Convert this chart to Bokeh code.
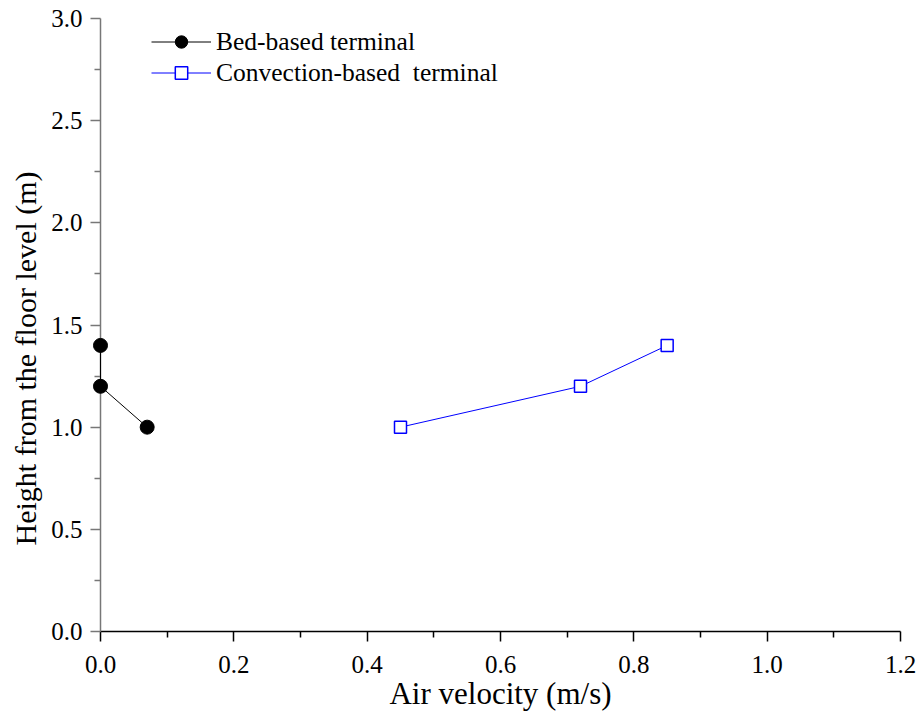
from bokeh.plotting import figure
from bokeh.models import Range1d, Legend, LegendItem, FixedTicker, NumeralTickFormatter, Title
from bokeh.embed import file_html
from bokeh.resources import INLINE

# Data
bed_velocity = [0.0, 0.0, 0.07]
bed_height = [1.4, 1.2, 1.0]
conv_velocity = [0.45, 0.72, 0.85]
conv_height = [1.0, 1.2, 1.4]

x_major = [0.0, 0.2, 0.4, 0.6, 0.8, 1.0, 1.2]
x_minor = [0.1, 0.3, 0.5, 0.7, 0.9, 1.1]
y_major = [0.0, 0.5, 1.0, 1.5, 2.0, 2.5, 3.0]
y_minor = [0.25, 0.75, 1.25, 1.75, 2.25, 2.75]

x_title = "Air velocity (m/s)"
y_title = "Height from the floor level (m)"
series_names = ["Bed-based terminal", "Convection-based  terminal"]

FONT = "Liberation Serif"

p = figure(width=920, height=713, x_range=Range1d(0, 1.2), y_range=Range1d(0, 3.0),
           output_backend="svg", toolbar_location=None,
           min_border_left=99, min_border_right=20, min_border_top=18, min_border_bottom=82,
           x_axis_label=x_title)

p.outline_line_color = None
p.xgrid.visible = False
p.ygrid.visible = False

p.xaxis.ticker = FixedTicker(ticks=x_major, minor_ticks=x_minor)
p.yaxis.ticker = FixedTicker(ticks=y_major, minor_ticks=y_minor)
for ax in (p.xaxis, p.yaxis):
    ax.formatter = NumeralTickFormatter(format="0.0")
    ax.major_tick_in = 0
    ax.major_tick_out = 10
    ax.minor_tick_in = 0
    ax.minor_tick_out = 6
    ax.major_label_text_font = FONT
    ax.major_label_text_font_size = "25px"
    ax.major_label_text_color = "black"
    ax.axis_line_width = 1.5
    ax.major_tick_line_width = 1.5
    ax.minor_tick_line_width = 1.5

p.xaxis.axis_line_color = "black"
p.xaxis.major_tick_line_color = "black"
p.xaxis.minor_tick_line_color = "black"
p.xaxis.major_label_standoff = 14
p.xaxis.axis_label_text_font = FONT
p.xaxis.axis_label_text_font_size = "31px"
p.xaxis.axis_label_text_font_style = "normal"
p.xaxis.axis_label_text_color = "black"
p.xaxis.axis_label_standoff = 0

p.yaxis.axis_line_color = "#777777"
p.yaxis.major_tick_line_color = "#777777"
p.yaxis.minor_tick_line_color = "#777777"
p.yaxis.major_label_standoff = 8

l1 = p.line(bed_velocity, bed_height, line_color="black", line_width=1)
s1 = p.scatter(bed_velocity, bed_height, marker="circle", size=14,
               fill_color="black", line_color="black")
l2 = p.line(conv_velocity, conv_height, line_color="blue", line_width=1)
s2 = p.scatter(conv_velocity, conv_height, marker="square", size=12,
               fill_color="white", line_color="blue", line_width=1.5)
for r in (l1, s1, l2, s2):
    r.level = "overlay"

legend = Legend(items=[LegendItem(label=series_names[0], renderers=[l1, s1]),
                       LegendItem(label=series_names[1], renderers=[l2, s2])],
                location=(51, 543), padding=0, margin=0, spacing=0,
                glyph_width=60, glyph_height=31, label_height=31, label_standoff=5,
                label_text_font=FONT, label_text_font_size="25.5px", label_text_color="black",
                border_line_color=None, background_fill_alpha=0)
p.add_layout(legend, "center")

# Y title, starting above the frame bottom like the reference
p.add_layout(Title(text=y_title, align="left", offset=86, text_font=FONT,
                   text_font_size="30px", text_font_style="normal", text_color="black",
                   standoff=13), "left")

open("out.html", "w").write(file_html(p, INLINE))
